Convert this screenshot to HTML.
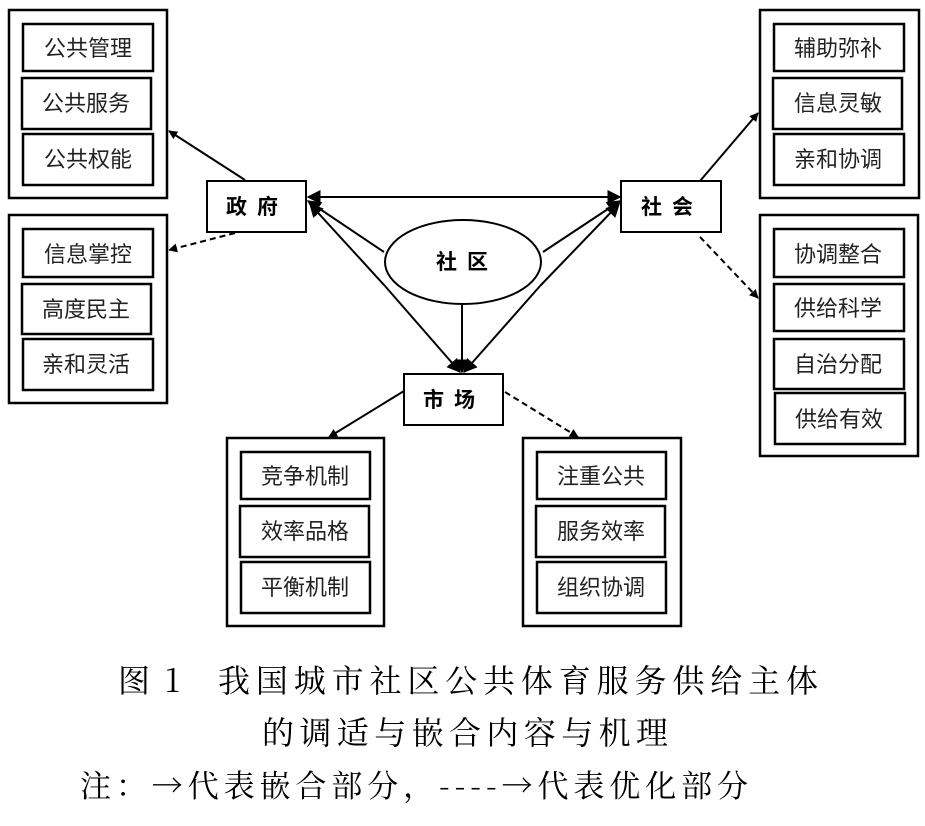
<!DOCTYPE html>
<html><head><meta charset="utf-8"><style>
body{margin:0;background:#fff;}
svg{display:block}
text{font-family:"Liberation Sans","Noto Sans CJK SC",sans-serif;}
text.c{font-family:"Noto Serif CJK SC","Liberation Serif",serif;}
</style></head><body>
<svg width="925" height="826" viewBox="0 0 925 826" xmlns="http://www.w3.org/2000/svg">
<defs>
<marker id="a" viewBox="0 0 10 10" refX="9" refY="5" markerWidth="9" markerHeight="9" markerUnits="userSpaceOnUse" orient="auto"><path d="M0,0L10,5L0,10z" fill="#000"/></marker>
<marker id="b" viewBox="0 0 10 10" refX="9" refY="5" markerWidth="14" markerHeight="14" markerUnits="userSpaceOnUse" orient="auto"><path d="M0,0L10,5L0,10z" fill="#000"/></marker>
</defs>
<g fill="none" stroke="#000" stroke-width="2.5">
<rect x="9" y="10" width="158" height="188"/>
<rect x="23" y="24" width="130" height="47"/><rect x="22" y="78" width="129" height="51"/><rect x="23" y="134" width="130" height="51"/>
<rect x="9" y="215" width="158" height="188"/>
<rect x="23" y="229" width="130" height="48"/><rect x="22" y="284" width="129" height="50"/><rect x="23" y="339" width="130" height="51"/>
<rect x="760" y="10" width="159" height="188"/>
<rect x="774" y="24" width="130" height="47"/><rect x="773" y="78" width="129" height="51"/><rect x="774" y="134" width="130" height="51"/>
<rect x="760" y="215" width="158" height="241"/>
<rect x="774" y="229" width="130" height="48"/><rect x="774" y="284" width="130" height="47"/><rect x="774" y="339" width="130" height="50"/><rect x="775" y="393" width="130" height="51"/>
<rect x="227" y="438" width="157" height="188"/>
<rect x="241" y="452" width="129" height="47"/><rect x="240" y="506" width="129" height="51"/><rect x="241" y="562" width="129" height="51"/>
<rect x="523" y="438" width="158" height="188"/>
<rect x="537" y="452" width="129" height="47"/><rect x="536" y="506" width="129" height="51"/><rect x="537" y="562" width="129" height="51"/>
</g>
<g fill="none" stroke="#000" stroke-width="2">
<rect x="207" y="181" width="99" height="51"/>
<rect x="621" y="181" width="100" height="51"/>
<rect x="404" y="374" width="99" height="51"/>
<ellipse cx="463" cy="262" rx="78" ry="42"/>
<line x1="245" y1="180" x2="169" y2="131" marker-end="url(#a)"/>
<line x1="235" y1="233" x2="169" y2="250" stroke-dasharray="6,4" marker-end="url(#a)"/>
<line x1="700" y1="181" x2="758" y2="113" marker-end="url(#a)"/>
<line x1="700" y1="237" x2="758" y2="298" stroke-dasharray="6,4" marker-end="url(#a)"/>
<line x1="404" y1="391" x2="329" y2="437" marker-end="url(#a)"/>
<line x1="505" y1="392" x2="578" y2="437" stroke-dasharray="6,4" marker-end="url(#a)"/>
<line x1="460" y1="197" x2="308" y2="197" marker-end="url(#b)"/>
<line x1="460" y1="197" x2="620" y2="197" marker-end="url(#b)"/>
<line x1="384" y1="252" x2="308" y2="201" marker-end="url(#b)"/>
<line x1="543" y1="252" x2="620" y2="201" marker-end="url(#b)"/>
<line x1="385" y1="286" x2="310" y2="204" marker-end="url(#b)"/>
<line x1="385" y1="286" x2="460" y2="372" marker-end="url(#b)"/>
<line x1="540" y1="286" x2="619" y2="204" marker-end="url(#b)"/>
<line x1="540" y1="286" x2="464" y2="372" marker-end="url(#b)"/>
<line x1="462" y1="305" x2="462" y2="372" marker-end="url(#b)"/>
</g>
<g font-size="22" text-anchor="middle" fill="#222">
<text x="88" y="56">公共管理</text><text x="86" y="111">公共服务</text><text x="88" y="167">公共权能</text>
<text x="88" y="262">信息掌控</text><text x="86" y="317">高度民主</text><text x="86" y="372">亲和灵活</text>
<text x="838" y="56">辅助弥补</text><text x="838" y="111">信息灵敏</text><text x="838" y="167">亲和协调</text>
<text x="838" y="262">协调整合</text><text x="838" y="316">供给科学</text><text x="838" y="372">自治分配</text><text x="839" y="427">供给有效</text>
<text x="305" y="484">竞争机制</text><text x="305" y="539">效率品格</text><text x="305" y="595">平衡机制</text>
<text x="601" y="484">注重公共</text><text x="601" y="539">服务效率</text><text x="601" y="595">组织协调</text>
</g>
<g font-size="21" font-weight="bold" text-anchor="middle" fill="#000">
<text x="257" y="214" letter-spacing="10">政府</text>
<text x="672" y="214" letter-spacing="10">社会</text>
<text x="454" y="407" letter-spacing="10">市场</text>
<text x="467" y="269" letter-spacing="10">社区</text>
</g>
<text class="c" x="118" y="692" font-size="32" textLength="62" lengthAdjust="spacing">图1</text>
<text class="c" x="218" y="692" font-size="32" textLength="600" lengthAdjust="spacing">我国城市社区公共体育服务供给主体</text>
<text class="c" x="262" y="744" font-size="32" textLength="406" lengthAdjust="spacing">的调适与嵌合内容与机理</text>
<text class="c" x="80" y="797" font-size="31" textLength="668" lengthAdjust="spacing">注：→代表嵌合部分，----→代表优化部分</text>
</svg>
</body></html>
